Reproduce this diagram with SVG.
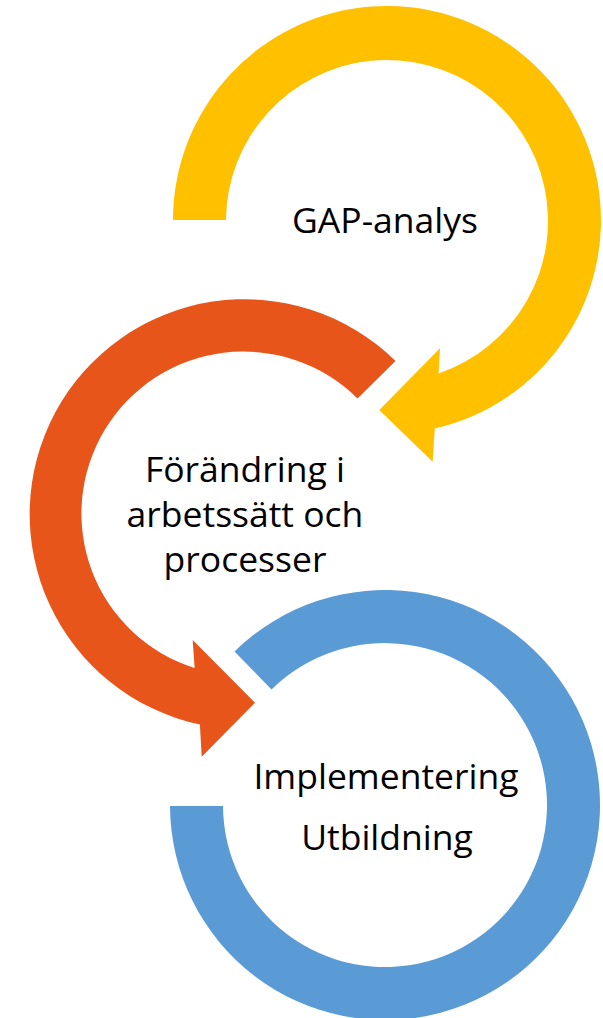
<svg xmlns="http://www.w3.org/2000/svg" width="603" height="1018" viewBox="0 0 603 1018">
<style>
.lbl{font-family:"Open Sans","Noto Sans","Liberation Sans",sans-serif;font-size:35.5px;fill:#000;text-anchor:middle}
.yel{fill:#FFC000}
.ora{fill:#E7551A}
.blu{fill:#5B9BD5}
</style>
<rect width="603" height="1018" fill="#fff"/>
<g id="node-gap">
<path class="yel" d="M173 220 A214 214 0 1 1 434.8 428.6 L432.7 461.7 L379.3 410 L440 348.3 L438.6 373.5 A161 161 0 1 0 226 220 Z"/>
<text class="lbl" x="385" y="233">GAP-analys</text>
</g>
<g id="node-forandring">
<path class="ora" d="M395.5 361 A215 215 0 1 0 199.9 724.5 L201.7 756.7 L255 702.7 L192.7 640 L194.6 668 A162 162 0 1 1 357.5 398.5 Z"/>
<text class="lbl" x="245" y="482">Förändring i</text>
<text class="lbl" x="245" y="527">arbetssätt och</text>
<text class="lbl" x="245" y="572">processer</text>
</g>
<g id="node-implementering">
<path class="blu" d="M234.5 651.5 A215 215 0 1 1 170 806 L223 806 A162 162 0 1 0 271.5 689.5 Z"/>
<text class="lbl" x="386" y="789">Implementering</text>
<text class="lbl" x="387" y="850">Utbildning</text>
</g>
<g id="connectors"/>
</svg>
